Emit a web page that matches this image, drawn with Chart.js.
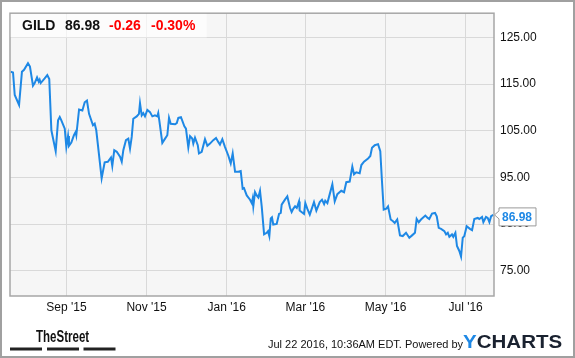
<!DOCTYPE html>
<html><head><meta charset="utf-8">
<script src="https://cdn.jsdelivr.net/npm/chart.js@4/dist/chart.umd.min.js"></script>
<style>html,body{margin:0;padding:0;background:#fff;}#wrap{width:575px;height:358px;position:relative;}</style>
</head><body><div id="wrap"><canvas id="c" width="575" height="358"></canvas></div>
<script>
// Days since 2015-07-20
const days = [0.5,2.3,3.6,6.9,9.1,10.7,13.7,15.2,17.5,18.8,20.6,21.9,22.6,23.4,26.4,28.4,29.9,31.5,34.8,36.6,37.9,39.1,41.7,42.9,44.2,44.9,46.7,48.7,50.0,50.5,52.6,55.1,56.9,58.6,60.2,63.2,64.5,65.7,69.8,72.1,74.5,76.9,77.9,79.4,81.3,83.8,85.1,86.3,88.3,90.1,91.4,92.7,93.9,96.5,98.2,99.0,100.3,101.5,102.8,104.6,106.6,108.4,110.4,112.2,112.9,113.7,116.0,118.1,119.8,121.1,122.4,125.7,127.0,128.2,130.2,132.8,134.0,135.8,137.1,138.8,139.6,140.9,143.0,143.9,146.0,148.5,150.3,152.3,154.8,156.9,158.6,159.9,161.7,163.7,166.3,168.1,169.6,171.4,173.9,175.7,177.2,178.2,180.3,182.8,184.1,184.8,185.3,186.6,187.9,189.1,190.4,191.7,193.5,195.5,196.5,197.5,198.6,199.5,200.5,203.1,204.9,206.2,206.9,209.4,211.2,213.3,214.5,215.8,217.1,218.4,220.1,220.6,223.9,224.9,226.4,228.3,231.5,233.3,235.9,237.6,239.2,240.1,241.7,243.5,245.5,247.3,249.3,252.3,254.4,256.1,258.7,260.7,262.0,263.7,266.3,267.6,269.6,272.7,274.4,275.7,277.8,280.3,282.0,283.3,284.6,286.6,287.9,289.9,291.7,293.0,294.9,297.0,299.1,301.6,304.1,306.2,308.4,309.7,311.3,313.0,316.3,318.1,319.3,321.4,323.7,325.0,326.5,328.3,330.8,332.1,333.4,334.6,336.6,337.6,339.2,340.4,342.2,343.5,344.8,346.0,347.8,350.3,351.9,353.6,356.2,357.4,359.5,360.5,362.5,363.8,365.1,366.4,368.1];
const prices = [117.65,117.5,112.68,110.55,117.65,118.07,119.48,118.77,114.67,115.23,116.44,115.52,115.95,115.23,116.22,116.93,116.08,105.11,100.65,107.24,107.94,107.24,105.45,101.56,103.90,101.77,102.48,104.05,104.75,104.05,109.57,109.36,111.12,111.49,108.64,106.17,106.51,105.11,94.83,98.23,98.37,99.29,97.46,100.86,100.50,99.44,98.37,100.86,102.99,103.33,101.20,103.69,107.58,108.09,108.64,110.91,108.30,108.79,108.09,109.49,109.00,108.09,108.30,108.09,108.79,107.24,102.41,103.33,104.05,107.79,106.51,106.39,106.66,107.79,107.94,105.96,105.45,101.41,103.84,103.33,102.26,103.54,101.92,100.14,100.50,103.20,101.77,102.26,102.99,103.47,102.62,102.05,103.20,101.56,99.65,98.01,100.14,96.25,96.25,96.40,92.57,92.70,91.15,90.24,89.51,90.45,88.81,91.85,91.15,90.72,92.15,88.81,82.80,83.14,83.50,82.44,86.20,86.47,84.92,85.05,87.18,87.39,89.17,90.24,90.94,88.45,87.60,88.32,88.81,88.45,89.87,87.90,87.18,89.51,88.32,87.05,89.73,87.90,89.73,90.24,89.30,90.02,89.51,91.43,93.55,89.87,91.43,92.15,91.85,93.98,94.12,97.31,95.68,96.10,95.89,97.67,98.37,99.08,99.59,101.35,101.92,102.14,100.65,94.12,88.11,88.32,88.81,85.99,85.62,85.26,85.99,82.59,82.44,83.14,82.08,82.59,83.14,86.11,85.41,85.99,86.84,86.33,86.11,87.26,87.39,86.69,84.20,83.99,83.50,82.80,83.14,82.29,82.80,82.29,83.14,80.31,79.25,78.04,82.08,82.44,84.56,83.99,83.71,86.11,86.33,86.11,86.54,85.41,86.54,86.33,85.41,86.69,86.98];
const xTickDays = [43,104,165,225,286,347];
const xTickLabels = ["Sep '15","Nov '15","Jan '16","Mar '16","May '16","Jul '16"];
const yTickValues = [75,85,95,105,115,125];
const ticker = "GILD";
const lastPrice = 86.98;
const change = "-0.26";
const changePct = "-0.30%";
const stampText = "Jul 22 2016, 10:36AM EDT. Powered by";

const BLUE = '#1e88e5';
const FONT = "'Liberation Sans', Arial, sans-serif";

const framePlugin = {
  id: 'frame',
  beforeDraw(chart) {
    const {ctx, chartArea: a} = chart;
    ctx.save();
    ctx.fillStyle = '#f6f6f6';
    ctx.fillRect(a.left, a.top, a.right - a.left, a.bottom - a.top);
    ctx.restore();
  },
  afterDraw(chart) {
    const {ctx, chartArea: a} = chart;
    const ys = chart.scales.y;
    ctx.save();
    ctx.strokeStyle = '#a6a6a6';
    ctx.lineWidth = 1.5;
    ctx.strokeRect(a.left, a.top, a.right - a.left, a.bottom - a.top);
    ctx.strokeStyle = '#a0a0a0';
    ctx.lineWidth = 2;
    ctx.strokeRect(1, 1, 573, 356);
    ctx.fillStyle = 'rgba(255,255,255,0.65)';
    ctx.fillRect(a.left + 0.75, a.top + 0.75, 196, 23.5);
    ctx.font = "bold 14px " + FONT;
    ctx.textBaseline = 'alphabetic';
    ctx.fillStyle = '#111';
    ctx.fillText(ticker, 22, 29.5);
    ctx.fillText(lastPrice.toFixed(2), 65, 29.5);
    ctx.fillStyle = '#ff0000';
    ctx.fillText(change, 109, 29.5);
    ctx.fillText(changePct, 151, 29.5);
    const py = ys.getPixelForValue(lastPrice);
    const bx = a.right + 5, bw = 37, bh = 18, by = py - 7;
    ctx.beginPath();
    ctx.moveTo(a.right + 0.5, py);
    ctx.lineTo(bx, py - 4);
    ctx.lineTo(bx, by);
    ctx.lineTo(bx + bw, by);
    ctx.lineTo(bx + bw, by + bh);
    ctx.lineTo(bx, by + bh);
    ctx.lineTo(bx, py + 4);
    ctx.closePath();
    ctx.fillStyle = '#fff';
    ctx.fill();
    ctx.strokeStyle = '#999';
    ctx.lineWidth = 1;
    ctx.stroke();
    ctx.fillStyle = BLUE;
    ctx.font = "bold 12px " + FONT;
    ctx.textBaseline = 'middle';
    ctx.fillText(lastPrice.toFixed(2), bx + 3, by + bh / 2 + 0.5);
    ctx.fillStyle = '#111';
    ctx.textBaseline = 'alphabetic';
    ctx.save();
    ctx.translate(36, 341.7);
    ctx.scale(0.72, 1);
    ctx.font = "bold 16px " + FONT;
    ctx.fillText('TheStreet', 0, 0);
    ctx.restore();
    ctx.fillStyle = '#222';
    ctx.fillRect(10, 347.5, 32, 3);
    ctx.fillRect(47, 347.5, 32, 3);
    ctx.fillRect(83.5, 347.5, 32, 3);
    ctx.fillStyle = '#111';
    ctx.font = "11px " + FONT;
    ctx.fillText(stampText, 268, 348.3);
    ctx.save();
    ctx.translate(463, 348.3);
    ctx.scale(1.08, 1);
    ctx.font = "bold 19px " + FONT;
    ctx.fillStyle = BLUE;
    ctx.fillText('Y', 0, 0);
    const yw = ctx.measureText('Y').width;
    ctx.fillStyle = '#1a2230';
    ctx.fillText('CHARTS', yw, 0);
    ctx.restore();
    ctx.restore();
  }
};

new Chart(document.getElementById('c'), {
  type: 'line',
  data: {
    datasets: [{
      data: days.map((d, i) => ({x: d, y: prices[i]})),
      borderColor: BLUE,
      borderWidth: 2,
      pointRadius: 0,
      tension: 0,
      fill: false
    }]
  },
  options: {
    responsive: false,
    animation: false,
    layout: {padding: {left: 10, top: 10, right: 0, bottom: 0}},
    plugins: {legend: {display: false}, tooltip: {enabled: false}},
    scales: {
      x: {
        type: 'linear',
        min: 0, max: 368.6,
        afterBuildTicks(s) { s.ticks = xTickDays.map(v => ({value: v})); },
        afterFit(s) { s.height = 62; },
        grid: {color: '#d9d9d9', drawTicks: false, lineWidth: 1},
        border: {display: false},
        ticks: {
          padding: 4,
          color: '#111',
          font: {family: FONT, size: 12},
          maxRotation: 0,
          autoSkip: false,
          callback(v) { const i = xTickDays.indexOf(v); return i >= 0 ? xTickLabels[i] : ''; }
        }
      },
      y: {
        position: 'right',
        min: 69.6, max: 130.2,
        afterBuildTicks(s) { s.ticks = yTickValues.map(v => ({value: v})); },
        afterFit(s) { s.width = 81; },
        grid: {color: '#d9d9d9', drawTicks: false, lineWidth: 1},
        border: {display: false},
        ticks: {
          padding: 6,
          color: '#111',
          font: {family: FONT, size: 12},
          callback(v) { return Number(v).toFixed(2); }
        }
      }
    }
  },
  plugins: [framePlugin]
});
</script>
</body></html>
